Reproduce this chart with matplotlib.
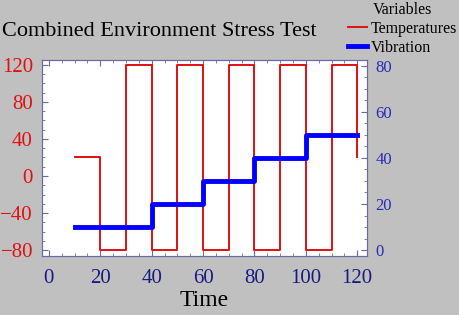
import numpy as np
import matplotlib.pyplot as plt
from matplotlib.ticker import MultipleLocator

plt.rcParams['font.family'] = ['Liberation Serif', 'DejaVu Serif']

# temperature profile (step changes)
temp_time = [10, 20, 20, 30, 30, 40, 40, 50, 50, 60, 60, 70, 70, 80, 80, 90, 90, 100, 100, 110, 110, 120, 120]
temp_vals = [20, 20, -80, -80, 120, 120, -80, -80, 120, 120, -80, -80, 120, 120, -80, -80, 120, 120, -80, -80, 120, 120, 20]

# vibration steps
vib_time = [10, 40, 40, 60, 60, 80, 80, 100, 100, 120]
vib_vals = [10, 10, 20, 20, 30, 30, 40, 40, 50, 50]

bg = '#c0c0c0'
navy = '#1a1a80'
blue2 = '#2a2ab8'
spine = '#6a6aa8'

fig = plt.figure(figsize=(4.6, 3.15), dpi=100, facecolor=bg)
ax = fig.add_axes([0.0913, 0.187, 0.707, 0.623])
ax2 = ax.twinx()

l1, = ax.plot(temp_time, temp_vals, color='#e01010', lw=1.4, label='Temperatures')
l2, = ax2.plot(vib_time, vib_vals, color='#0000ff', lw=3.5, label='Vibration')

ax.set_xlim(-2.7, 123.9)
ax.set_ylim(-86.5, 125.4)
ax2.set_ylim(-2.6, 82.5)

ax.xaxis.set_major_locator(MultipleLocator(20))
ax.xaxis.set_minor_locator(MultipleLocator(5))
ax.yaxis.set_major_locator(MultipleLocator(40))
ax.yaxis.set_minor_locator(MultipleLocator(10))
ax2.yaxis.set_major_locator(MultipleLocator(20))
ax2.yaxis.set_minor_locator(MultipleLocator(5))

ax.tick_params(axis='x', which='both', direction='in', top=True, colors=spine, labelcolor=navy, labelsize=15, pad=9)
ax.tick_params(axis='y', which='both', direction='in', colors=spine, labelcolor='#e01010', labelsize=15, pad=6.5)
ax2.tick_params(axis='y', which='both', direction='in', colors=spine, labelcolor=blue2, labelsize=12, pad=6)
for a in (ax, ax2):
    a.tick_params(which='major', length=4)
    a.tick_params(which='minor', length=2)
    for s in a.spines.values():
        s.set_color(spine)
        s.set_linewidth(0.8)

ax.set_xlabel('Time', fontsize=17, color='black', labelpad=2)
fig.text(0.005, 0.9, 'Combined Environment Stress Test', fontsize=16, color='black', va='center')

leg = fig.legend(handles=[l1, l2], title='Variables', loc='upper left',
                 bbox_to_anchor=(0.752, 1.0), frameon=False, fontsize=11.5,
                 title_fontsize=11.5, handlelength=1.2, handletextpad=0.25,
                 labelspacing=0.2, borderaxespad=0, borderpad=0.1)

fig.savefig('out.png', dpi=100, facecolor=bg)
